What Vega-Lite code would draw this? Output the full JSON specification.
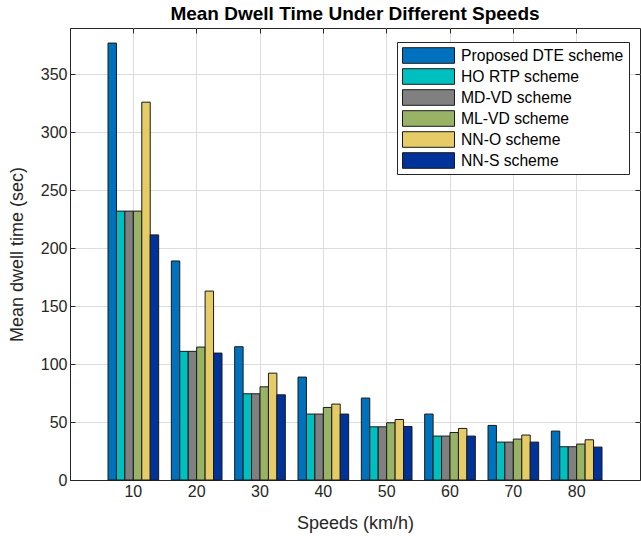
{
  "$schema": "https://vega.github.io/schema/vega-lite/v6.json",
  "autosize": "none",
  "width": 570,
  "height": 452,
  "padding": {"left": 70, "top": 28, "right": 1, "bottom": 61},
  "background": "white",
  "title": {"text": "Mean Dwell Time Under Different Speeds", "font": "Liberation Sans", "fontSize": 19, "fontWeight": "bold", "color": "#000000", "anchor": "middle", "offset": 4},
  "config": {
    "view": {"stroke": "#262626", "strokeWidth": 1},
    "axis": {"labelFont": "Liberation Sans", "titleFont": "Liberation Sans", "labelFontSize": 16, "titleFontSize": 18, "labelColor": "#262626", "titleColor": "#262626", "titleFontWeight": "normal", "domainColor": "#262626", "tickColor": "#262626", "gridColor": "#dcdcdc", "gridWidth": 1}
  },
  "data": {"values": [
    {"speed": 10, "scheme": "Proposed DTE scheme", "v": 377},
    {"speed": 10, "scheme": "HO RTP scheme", "v": 232},
    {"speed": 10, "scheme": "MD-VD scheme", "v": 232},
    {"speed": 10, "scheme": "ML-VD scheme", "v": 232},
    {"speed": 10, "scheme": "NN-O scheme", "v": 326},
    {"speed": 10, "scheme": "NN-S scheme", "v": 211.5},
    {"speed": 20, "scheme": "Proposed DTE scheme", "v": 189},
    {"speed": 20, "scheme": "HO RTP scheme", "v": 111},
    {"speed": 20, "scheme": "MD-VD scheme", "v": 111},
    {"speed": 20, "scheme": "ML-VD scheme", "v": 114.7},
    {"speed": 20, "scheme": "NN-O scheme", "v": 163},
    {"speed": 20, "scheme": "NN-S scheme", "v": 109.5},
    {"speed": 30, "scheme": "Proposed DTE scheme", "v": 115},
    {"speed": 30, "scheme": "HO RTP scheme", "v": 74.4},
    {"speed": 30, "scheme": "MD-VD scheme", "v": 74.4},
    {"speed": 30, "scheme": "ML-VD scheme", "v": 80.4},
    {"speed": 30, "scheme": "NN-O scheme", "v": 92.2},
    {"speed": 30, "scheme": "NN-S scheme", "v": 73.5},
    {"speed": 40, "scheme": "Proposed DTE scheme", "v": 88.8},
    {"speed": 40, "scheme": "HO RTP scheme", "v": 56.9},
    {"speed": 40, "scheme": "MD-VD scheme", "v": 56.9},
    {"speed": 40, "scheme": "ML-VD scheme", "v": 62.6},
    {"speed": 40, "scheme": "NN-O scheme", "v": 65.5},
    {"speed": 40, "scheme": "NN-S scheme", "v": 56.9},
    {"speed": 50, "scheme": "Proposed DTE scheme", "v": 70.7},
    {"speed": 50, "scheme": "HO RTP scheme", "v": 45.9},
    {"speed": 50, "scheme": "MD-VD scheme", "v": 45.9},
    {"speed": 50, "scheme": "ML-VD scheme", "v": 49.4},
    {"speed": 50, "scheme": "NN-O scheme", "v": 52.2},
    {"speed": 50, "scheme": "NN-S scheme", "v": 46.2},
    {"speed": 60, "scheme": "Proposed DTE scheme", "v": 56.9},
    {"speed": 60, "scheme": "HO RTP scheme", "v": 37.9},
    {"speed": 60, "scheme": "MD-VD scheme", "v": 37.9},
    {"speed": 60, "scheme": "ML-VD scheme", "v": 41},
    {"speed": 60, "scheme": "NN-O scheme", "v": 44.5},
    {"speed": 60, "scheme": "NN-S scheme", "v": 37.9},
    {"speed": 70, "scheme": "Proposed DTE scheme", "v": 47.1},
    {"speed": 70, "scheme": "HO RTP scheme", "v": 32.7},
    {"speed": 70, "scheme": "MD-VD scheme", "v": 32.7},
    {"speed": 70, "scheme": "ML-VD scheme", "v": 35.3},
    {"speed": 70, "scheme": "NN-O scheme", "v": 38.8},
    {"speed": 70, "scheme": "NN-S scheme", "v": 32.7},
    {"speed": 80, "scheme": "Proposed DTE scheme", "v": 42.2},
    {"speed": 80, "scheme": "HO RTP scheme", "v": 28.7},
    {"speed": 80, "scheme": "MD-VD scheme", "v": 28.7},
    {"speed": 80, "scheme": "ML-VD scheme", "v": 31},
    {"speed": 80, "scheme": "NN-O scheme", "v": 34.7},
    {"speed": 80, "scheme": "NN-S scheme", "v": 28.4}
  ]},
  "encoding": {
    "x": {"field": "speed", "type": "ordinal", "scale": {"paddingInner": 0.2, "paddingOuter": 0.6}},
    "xOffset": {"field": "scheme", "type": "nominal", "sort": ["Proposed DTE scheme", "HO RTP scheme", "MD-VD scheme", "ML-VD scheme", "NN-O scheme", "NN-S scheme"], "scale": {"paddingInner": 0, "paddingOuter": 0}},
    "y": {"field": "v", "type": "quantitative", "scale": {"domain": [0, 390], "nice": false, "zero": true}}
  },
  "layer": [
    {
      "mark": {"type": "bar", "stroke": "#1a1a1a", "strokeWidth": 1, "opacity": 1},
      "encoding": {
        "x": {"field": "speed", "type": "ordinal", "axis": {"orient": "bottom", "title": "Speeds (km/h)", "labelAngle": 0, "bandPosition": 0.5, "grid": true, "tickSize": -5, "labelPadding": 8, "titlePadding": 15, "domainWidth": 1}},
        "y": {"field": "v", "type": "quantitative", "axis": {"orient": "left", "title": "Mean dwell time (sec)", "values": [0, 50, 100, 150, 200, 250, 300, 350], "grid": true, "tickSize": -5, "labelPadding": 8, "titlePadding": 14}},
        "color": {"field": "scheme", "type": "nominal",
          "scale": {"domain": ["Proposed DTE scheme", "HO RTP scheme", "MD-VD scheme", "ML-VD scheme", "NN-O scheme", "NN-S scheme"], "range": ["#0072BD", "#00BFBF", "#808080", "#99B366", "#E6CC66", "#003399"]},
          "legend": {"orient": "none", "legendX": 327, "legendY": 14, "title": null, "labelFont": "Liberation Sans", "labelFontSize": 15.7, "labelColor": "#000000", "labelLimit": 300, "symbolType": "M-1,-0.3H1V0.3H-1Z", "symbolSize": 2704, "symbolStrokeColor": "#1a1a1a", "symbolStrokeWidth": 1, "symbolOpacity": 1, "strokeColor": "#262626", "fillColor": "white", "padding": 5, "rowPadding": 4, "clipHeight": 17, "labelOffset": 6, "cornerRadius": 0}}
      }
    },
    {
      "mark": {"type": "bar", "opacity": 0},
      "encoding": {
        "x": {"field": "speed", "type": "ordinal", "axis": {"orient": "top", "title": null, "labels": false, "bandPosition": 0.5, "grid": false, "tickSize": -5, "domain": false}},
        "y": {"field": "v", "type": "quantitative", "axis": {"orient": "right", "title": null, "labels": false, "values": [0, 50, 100, 150, 200, 250, 300, 350], "grid": false, "tickSize": -5, "domain": false}}
      }
    }
  ],
  "resolve": {"axis": {"x": "independent", "y": "independent"}}
}
